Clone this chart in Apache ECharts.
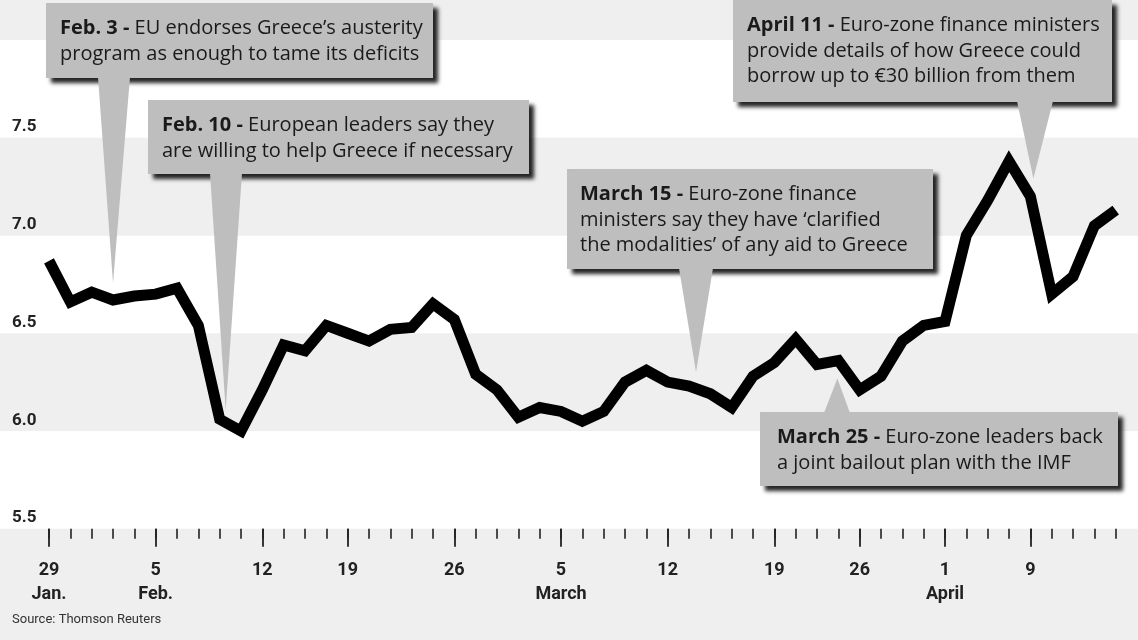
<!DOCTYPE html>
<html><head><meta charset="utf-8">
<script src="https://cdn.jsdelivr.net/npm/echarts@6/dist/echarts.min.js"></script>
<style>html,body{margin:0;padding:0;background:#efefef;}#c{width:1138px;height:640px;}</style>
</head><body><div id="c"></div>
<script>
const dates = ['Jan 29','Feb 1','Feb 2','Feb 3','Feb 4','Feb 5','Feb 8','Feb 9','Feb 10','Feb 11','Feb 12',
  'Feb 16','Feb 17','Feb 18','Feb 19','Feb 22','Feb 23','Feb 24','Feb 25','Feb 26',
  'Mar 1','Mar 2','Mar 3','Mar 4','Mar 5','Mar 8','Mar 9','Mar 10','Mar 11','Mar 12',
  'Mar 15','Mar 16','Mar 17','Mar 18','Mar 19','Mar 22','Mar 23','Mar 24','Mar 26',
  'Mar 29','Mar 30','Mar 31','Apr 1','Apr 6','Apr 7','Apr 8','Apr 9','Apr 12','Apr 13','Apr 14','Apr 15'];
const values = [6.87,6.66,6.71,6.67,6.69,6.70,6.73,6.54,6.06,6.00,
  6.21,6.44,6.41,6.54,6.50,6.46,6.52,6.53,6.65,6.57,
  6.29,6.21,6.07,6.12,6.10,6.05,6.10,6.25,6.31,6.25,
  6.23,6.19,6.12,6.28,6.35,6.47,6.34,6.36,6.21,6.28,
  6.46,6.54,6.56,7.00,7.18,7.38,7.20,6.70,6.79,7.05,7.13];
const majorTickIndex = [0,5,10,14,19,24,29,34,38,42,46];
const dayLabels = ['29','5','12','19','26','5','12','19','26','1','9'];
const monthLabels = ['Jan.','Feb.','','','','March','','','','April',''];
const yMin = 5.5, yMax = 8.0, yStep = 0.5;

const noteDates = ['Feb. 3','Feb. 10','March 15','March 25','April 11'];
const noteTexts = [
  ['EU endorses Greece’s austerity','program as enough to tame its deficits'],
  ['European leaders say they','are willing to help Greece if necessary'],
  ['Euro-zone finance','ministers say they have ‘clarified','the modalities’ of any aid to Greece'],
  ['Euro-zone leaders back','a joint bailout plan with the IMF'],
  ['Euro-zone finance ministers','provide details of how Greece could','borrow up to €30 billion from them']
];
const noteAnchorIndex = [3, 8, 30, 37, 46];
const sourceText = 'Source: Thomson Reuters';

// layout of the callouts (positions only)
const noteLayout = [
  {x:46, y:3, w:387, h:75, base:[98,130], dx:0, dy:-17, up:false, tx:14},
  {x:148, y:100, w:381, h:74, base:[210,242], dx:6, dy:-9, up:false, tx:14},
  {x:567, y:169, w:366, h:100, base:[679,713], dx:7, dy:-14, up:false, tx:13},
  {x:760, y:412, w:358, h:74, base:[824,850], dx:-1, dy:18, up:true, tx:17},
  {x:733, y:0, w:379, h:102, base:[1017,1053], dx:3, dy:-18, up:false, tx:14}
];

const FONT = '"Open Sans", Roboto, sans-serif';
const chart = echarts.init(document.getElementById('c'), null, {renderer:'canvas'});
const isMajor = (i) => majorTickIndex.indexOf(i) >= 0;

chart.setOption({
  animation: false,
  backgroundColor: '#efefef',
  grid: [
    {left:0, right:0, top:40, bottom:111.3, outerBoundsMode:'none', containLabel:false},
    {left:49, right:22.3, top:40, bottom:111.3, outerBoundsMode:'none', containLabel:false}
  ],
  xAxis: [
    {type:'value', gridIndex:0, show:false, min:0, max:1},
    {type:'category', gridIndex:1, position:'bottom', offset:0, data:dates, boundaryGap:false,
      axisLine:{show:false}, splitLine:{show:false},
      axisTick:{show:true, interval:0, length:10, lineStyle:{color:'#222', width:1.6}},
      axisLabel:{show:false}},
    {type:'category', gridIndex:1, position:'bottom', offset:0, data:dates, boundaryGap:false,
      axisLine:{show:false}, splitLine:{show:false},
      axisTick:{show:true, interval:(i)=>isMajor(i), length:18, lineStyle:{color:'#222', width:1.8}},
      axisLabel:{show:true, interval:(i)=>isMajor(i), margin:30,
        fontFamily:'Roboto, sans-serif', fontWeight:'bold', fontSize:18, lineHeight:24, color:'#222',
        formatter:(v,i)=>{const k=majorTickIndex.indexOf(i); if(k<0) return ''; return monthLabels[k]? dayLabels[k]+'\n'+monthLabels[k] : dayLabels[k];}}}
  ],
  yAxis: [
    {type:'value', gridIndex:0, min:yMin, max:yMax, interval:yStep,
      axisLine:{show:false}, axisTick:{show:false}, splitLine:{show:false},
      splitArea:{show:true, areaStyle:{color:['#ffffff','#efefef']}},
      axisLabel:{inside:true, margin:12, verticalAlign:'bottom', padding:[0,0,2,0],
        fontFamily:'Roboto, sans-serif', fontWeight:'bold', fontSize:17, color:'#222',
        formatter:(v)=> v >= yMax ? '' : v.toFixed(1)}},
    {type:'value', gridIndex:1, min:yMin, max:yMax, interval:yStep, show:false}
  ],
  series: [{
    type:'line', xAxisIndex:2, yAxisIndex:1, data:values, symbol:'none', clip:false,
    lineStyle:{color:'#000', width:11, join:'miter', cap:'butt'}, z:3
  }]
});

const graphics = [];
noteLayout.forEach((L, k) => {
  const p = chart.convertToPixel({seriesIndex:0}, [noteAnchorIndex[k], values[noteAnchorIndex[k]]]);
  const tip = [p[0] + L.dx, p[1] + L.dy];
  const by = L.up ? L.y : L.y + L.h;
  graphics.push({type:'rect', z:10, shape:{x:L.x, y:L.y, width:L.w, height:L.h},
    style:{fill:'#bebebe', shadowColor:'rgba(0,0,0,0.85)', shadowBlur:4, shadowOffsetX:5, shadowOffsetY:5}});
  graphics.push({type:'polygon', z:11, shape:{points:[[L.base[0], by + (L.up?1:-1)], [L.base[1], by + (L.up?1:-1)], tip]},
    style:{fill:'#bebebe'}});
  const lines = noteTexts[k].slice();
  const txt = '{b|' + noteDates[k] + ' -} ' + lines[0] + (lines.length>1 ? '\n' + lines.slice(1).join('\n') : '');
  graphics.push({type:'text', z:12, x:L.x+L.tx, y:L.y+13,
    style:{text:txt, fontFamily:FONT, fontSize:20, lineHeight:25.5, fill:'#1a1a1a', verticalAlign:'top', align:'left',
      rich:{b:{fontFamily:FONT, fontSize:20, fontWeight:'bold', lineHeight:25.5, fill:'#1a1a1a'}}}});
});
graphics.push({type:'text', z:12, x:12, y:620, style:{text:sourceText, fontFamily:'Roboto, sans-serif', fontSize:13, fill:'#333', verticalAlign:'middle'}});
chart.setOption({graphic: graphics});
</script></body></html>
